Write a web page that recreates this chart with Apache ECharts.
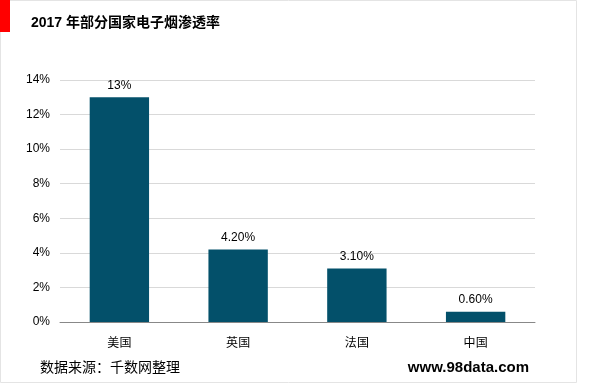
<!DOCTYPE html>
<html><head><meta charset="utf-8">
<script src="https://cdn.jsdelivr.net/npm/echarts@6/dist/echarts.min.js"></script>
<style>html,body{margin:0;padding:0;background:#fff}#c{width:600px;height:385px}</style>
</head><body><div id="c"></div>
<script>
const categories = ['美国', '英国', '法国', '中国'];
const values = [13, 4.2, 3.1, 0.6];
const valueLabels = ['13%', '4.20%', '3.10%', '0.60%'];
const titleText = '2017 年部分国家电子烟渗透率';
const sourceText = '数据来源：千数网整理';
const siteText = 'www.98data.com';

const chart = echarts.init(document.getElementById('c'));
chart.setOption({
  backgroundColor: '#fff',
  animation: false,
  graphic: [
    { type: 'rect', shape: { x: 0.5, y: 0.5, width: 576, height: 382 }, style: { fill: 'none', stroke: '#e4e4e4', lineWidth: 1 } },
    { type: 'rect', shape: { x: 0, y: 0, width: 10, height: 32 }, style: { fill: '#ff0000' } },
    { type: 'text', left: 31, top: 16, style: { text: titleText, font: 'bold 14px "Liberation Sans", "Noto Sans CJK SC", sans-serif', fill: '#000' } },
    { type: 'text', left: 40, top: 361, style: { text: sourceText, font: '14px "Liberation Sans", "Noto Sans CJK SC", sans-serif', fill: '#000' } },
    { type: 'text', right: 71, top: 360, style: { text: siteText, font: 'bold 15px "Liberation Sans", "Noto Sans CJK SC", sans-serif', fill: '#000' } }
  ],
  grid: { left: 60, right: 65, top: 80, bottom: 63, containLabel: false },
  xAxis: {
    type: 'category',
    data: categories,
    axisTick: { show: false },
    axisLine: { lineStyle: { color: '#888', width: 1 } },
    axisLabel: { color: '#000', fontSize: 12, margin: 14, fontFamily: '"Noto Sans CJK SC", sans-serif' }
  },
  yAxis: {
    type: 'value',
    min: 0, max: 14, interval: 2,
    axisLine: { show: false },
    axisTick: { show: false },
    splitLine: { lineStyle: { color: '#d9d9d9', width: 1 } },
    axisLabel: { formatter: '{value}%', color: '#000', fontSize: 12, margin: 10, fontFamily: '"Liberation Sans", Arial, sans-serif' }
  },
  series: [{
    type: 'bar',
    data: values,
    barWidth: '50%',
    itemStyle: { color: '#03506a' },
    label: {
      show: true, position: 'top', distance: 6, color: '#000', fontSize: 12,
      fontFamily: '"Liberation Sans", Arial, sans-serif',
      formatter: p => valueLabels[p.dataIndex]
    }
  }]
});
</script></body></html>
